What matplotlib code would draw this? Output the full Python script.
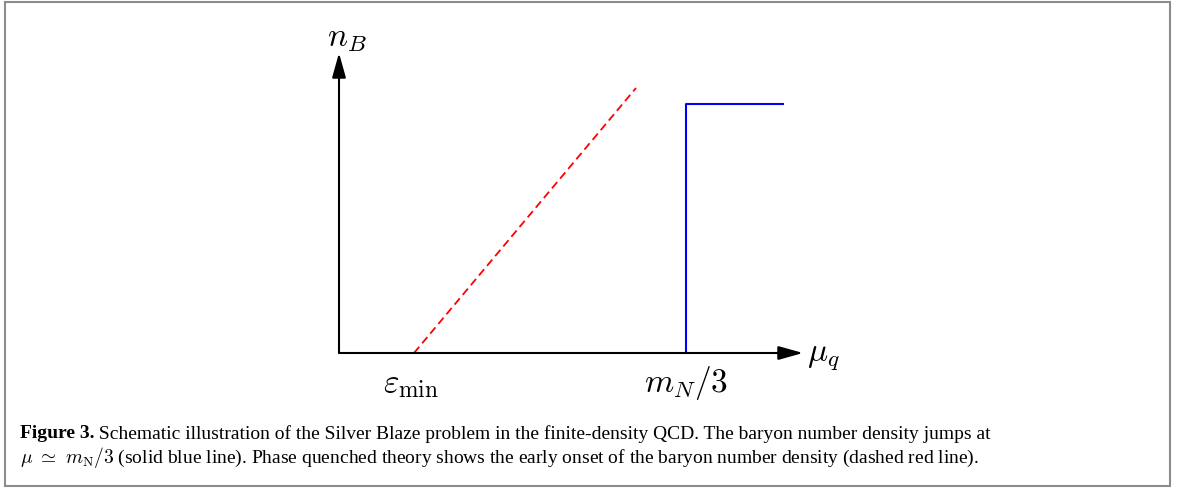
import matplotlib
matplotlib.use("Agg")
import matplotlib.pyplot as plt
from matplotlib.patches import Rectangle

plt.rcParams['mathtext.fontset'] = 'cm'

# schematic values (arbitrary units, origin at 0)
eps_min = 1.5
mN3 = 6.94
red_x = [eps_min, 5.94]
red_y = [0.0, 5.3]
blue_x = [mN3, mN3, 8.88]
blue_y = [0.0, 4.98, 4.98]
x_axis_end = 9.28
y_axis_end = 6.0

caption_bold = "Figure 3."
caption_1 = (" Schematic illustration of the Silver Blaze problem in the finite-density QCD. "
             "The baryon number density jumps at")
caption_2 = (r"$\mu\ \simeq\ m_{\rm N}/3$ (solid blue line). Phase quenched theory shows the early onset "
             "of the baryon number density (dashed red line).")

fig = plt.figure(figsize=(11.79, 4.93), dpi=100)
ax = fig.add_axes([0, 0, 1, 1])
ax.set_xlim(-6.78, 16.8)
ax.set_ylim(-2.8, 7.06)
ax.axis('off')

# axes with arrows
arrow = dict(arrowstyle='-|>,head_length=1.5,head_width=0.42', lw=1.5,
             color='black', shrinkA=0, shrinkB=0)
ax.annotate('', xy=(x_axis_end, 0), xytext=(0, 0), arrowprops=arrow)
ax.annotate('', xy=(0, y_axis_end), xytext=(0, 0), arrowprops=arrow)

ax.plot(red_x, red_y, color='red', lw=1.3, ls=(0, (4.5, 2.5)))
ax.plot(blue_x, blue_y, color='blue', lw=1.5)

ax.text(x_axis_end + 0.08, -0.06, r'$\mu_q$', fontsize=24, ha='left', va='center')
ax.text(0.15, y_axis_end + 0.3, r'$n_B$', fontsize=24, ha='center', va='center')
ax.text(eps_min - 0.05, -0.6, r'$\varepsilon_{\rm min}$', fontsize=24, ha='center', va='center')
ax.text(mN3, -0.6, r'$m_N/3$', fontsize=24, ha='center', va='center')

# caption
fs = 14
t = fig.text(20 / 1179, 1 - 434 / 493, caption_bold, fontsize=fs, fontweight='bold',
             family='Liberation Serif', va='center', ha='left')
fig.canvas.draw()
bb = t.get_window_extent()
fig.text(bb.x1 / 1179, 1 - 434 / 493, caption_1, fontsize=fs, family='Liberation Serif',
         va='center', ha='left')
fig.text(20 / 1179, 1 - 458 / 493, caption_2, fontsize=fs, family='Liberation Serif',
         va='center', ha='left')

# frame
fig.patches.append(Rectangle((5 / 1179, 1 - 486 / 493), 1165 / 1179, 484 / 493,
                             transform=fig.transFigure, fill=False, edgecolor='#8c8c8c', lw=1.5))

fig.savefig('out.png', dpi=100)
